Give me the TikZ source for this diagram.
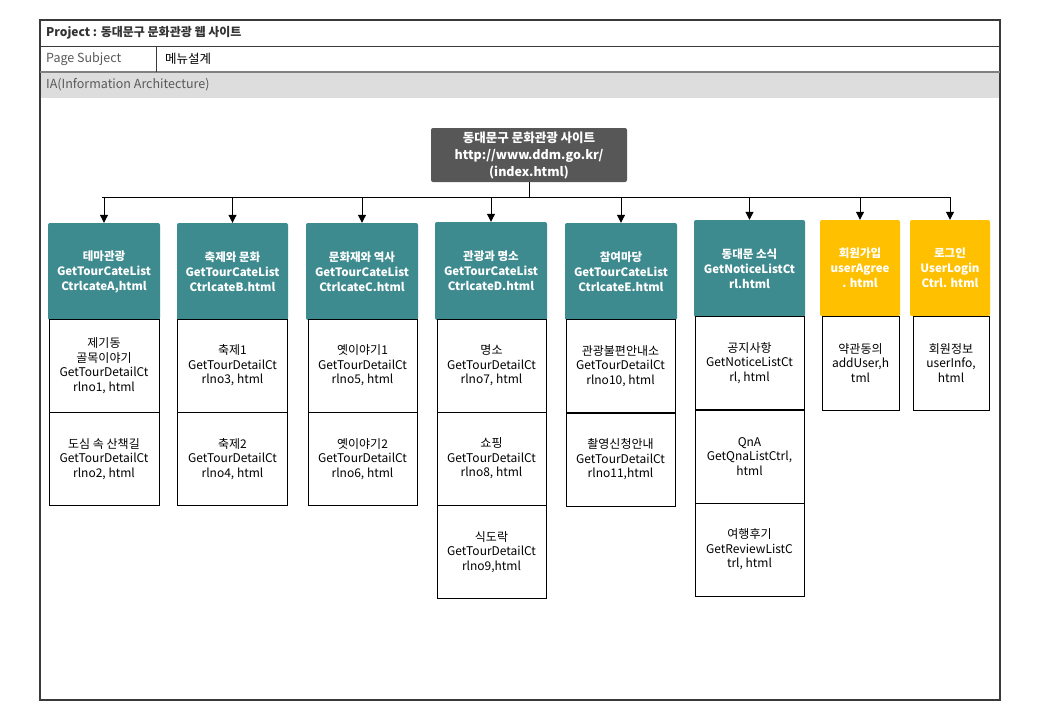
\documentclass[tikz,border=0pt]{standalone}
\usepackage{fontspec}
\setmainfont{Noto Sans CJK KR}
\usetikzlibrary{arrows.meta}

\definecolor{headteal}{HTML}{3D8A8F}
\definecolor{headgold}{HTML}{FFC000}
\definecolor{rootgray}{HTML}{575757}
\definecolor{bandgray}{HTML}{DDDDDD}
\definecolor{framegray}{HTML}{3A3A3A}

\tikzset{
  sitebox/.style={rectangle, rounded corners=2pt, fill=rootgray, text=white,
    font=\fontsize{12.5}{17}\selectfont\bfseries, minimum width=196pt, minimum height=54pt, align=center},
  menubox/.style={rectangle, rounded corners=2pt, fill=headteal, text=white,
    font=\fontsize{11.5}{15}\selectfont\bfseries, minimum width=112pt, minimum height=97pt, align=center, inner sep=1pt},
  memberbox/.style={menubox, fill=headgold, minimum width=80pt, minimum height=96pt},
  pagebox/.style={rectangle, draw, line width=1pt, fill=white,
    font=\fontsize{12}{14.6}\selectfont, minimum width=110pt, minimum height=93pt, align=center, inner sep=1pt},
  smallpage/.style={pagebox, minimum width=77pt, minimum height=94pt},
  headtext/.style={anchor=west, inner sep=0pt, font=\fontsize{12.5}{14}\selectfont}
}

\begin{document}
\begin{tikzpicture}[x=1pt, y=-1pt, >={Triangle[width=8pt,length=8pt]}]
		\useasboundingbox (0,0) rectangle (1040,720);

		% page frame
		\fill[bandgray] (40,72) rectangle (1000,98);
		\draw[framegray, line width=1.2pt] (40,20) rectangle (1000,700);
		\draw[framegray, line width=1pt] (40,46) -- (1000,46);
		\draw[gray, line width=2pt] (40,72) -- (1000,72);
		\draw[framegray, line width=1pt] (156,46) -- (156,72);

		\node at (46,33) [headtext, font=\fontsize{12}{14}\selectfont\bfseries, text=black!80] (project) {Project : 동대문구 문화관광 웹 사이트};
		\node at (46,59) [headtext, text=black!65]  (subject)   {Page Subject};
		\node at (165,59) [headtext]                (menu)      {메뉴설계};
		\node at (46,85) [headtext, text=black!65]  (ia)        {IA(Information Architecture)};

		% root
		\node at (529,155) [sitebox] (site) {동대문구 문화관광 사이트\\http://www.ddm.go.kr/\\(index.html)};

		% menus
		\node at (104,271.5)   [menubox] (theme)    {테마관광\\GetTourCateList\\CtrlcateA,html};
		\node at (232.5,271.5) [menubox, minimum width=111pt] (festival) {축제와 문화\\GetTourCateList\\CtrlcateB.html};
		\node at (362,271.5)   [menubox] (history)  {문화재와 역사\\GetTourCateList\\CtrlcateC.html};
		\node at (491,271)     [menubox, minimum height=98pt] (sights) {관광과 명소\\GetTourCateList\\CtrlcateD.html};
		\node at (621,271.5)   [menubox] (join)     {참여마당\\GetTourCateList\\CtrlcateE.html};
		\node at (749.5,268.5) [menubox, minimum width=111pt] (news) {동대문 소식\\GetNoticeListCt\\rl.html};
		\node at (860,268)     [memberbox] (signup) {회원가입\\userAgree\\. html};
		\node at (950,268)     [memberbox] (login)  {로그인\\UserLogin\\Ctrl. html};

		% pages
		\node at (104,365.5)   [pagebox] (theme_a)    {제기동\\골목이야기\\GetTourDetailCt\\rlno1, html};
		\node at (104,459)     [pagebox] (theme_b)    {도심 속 산책길\\GetTourDetailCt\\rlno2, html};
		\node at (232.5,365.5) [pagebox] (festival_a) {축제1\\GetTourDetailCt\\rlno3, html};
		\node at (232.5,459)   [pagebox] (festival_b) {축제2\\GetTourDetailCt\\rlno4, html};
		\node at (362.5,365.5) [pagebox, minimum width=109pt] (history_a) {옛이야기1\\GetTourDetailCt\\rlno5, html};
		\node at (362.5,459)   [pagebox, minimum width=109pt] (history_b) {옛이야기2\\GetTourDetailCt\\rlno6, html};
		\node at (491.5,365.5) [pagebox, minimum width=109pt] (sights_a) {명소\\GetTourDetailCt\\rlno7, html};
		\node at (491.5,458.5) [pagebox, minimum width=109pt] (sights_b) {쇼핑\\GetTourDetailCt\\rlno8, html};
		\node at (491.5,552)   [pagebox, minimum width=109pt] (sights_c) {식도락\\GetTourDetailCt\\rlno9,html};
		\node at (620.5,366)   [pagebox, minimum width=109pt] (join_a)   {관광불편안내소\\GetTourDetailCt\\rlno10, html};
		\node at (620.5,459.5) [pagebox, minimum width=109pt] (join_b)   {촬영신청안내\\GetTourDetailCt\\rlno11,html};
		\node at (749.5,363)   [pagebox, minimum width=109pt] (news_a)   {공지사항\\GetNoticeListCt\\rl, html};
		\node at (749.5,456.5) [pagebox, minimum width=109pt] (news_b)   {QnA\\GetQnaListCtrl,\\html};
		\node at (749.5,549.5) [pagebox, minimum width=109pt] (news_c)   {여행후기\\GetReviewListC\\trl, html};
		\node at (860.5,363)   [smallpage] (signup_a) {약관동의\\addUser,h\\tml};
		\node at (951,363)     [smallpage, minimum width=76pt] (login_a) {회원정보\\userInfo,\\html};

		% links
		\coordinate (bus_left)  at (102,197);
		\coordinate (bus_right) at (951,197);
		\draw[line width=1pt] (bus_left) -- (bus_right);
		\draw[line width=1pt] (site.south) -- (site.south |- bus_left);
		\draw[->, line width=1pt] (theme.north    |- bus_left) -- (theme.north);
		\draw[->, line width=1pt] (festival.north |- bus_left) -- (festival.north);
		\draw[->, line width=1pt] (history.north  |- bus_left) -- (history.north);
		\draw[->, line width=1pt] (sights.north   |- bus_left) -- (sights.north);
		\draw[->, line width=1pt] (join.north     |- bus_left) -- (join.north);
		\draw[->, line width=1pt] (news.north     |- bus_left) -- (news.north);
		\draw[->, line width=1pt] (signup.north   |- bus_left) -- (signup.north);
		\draw[->, line width=1pt] (login.north    |- bus_left) -- (login.north);
	\end{tikzpicture}
\end{document}
